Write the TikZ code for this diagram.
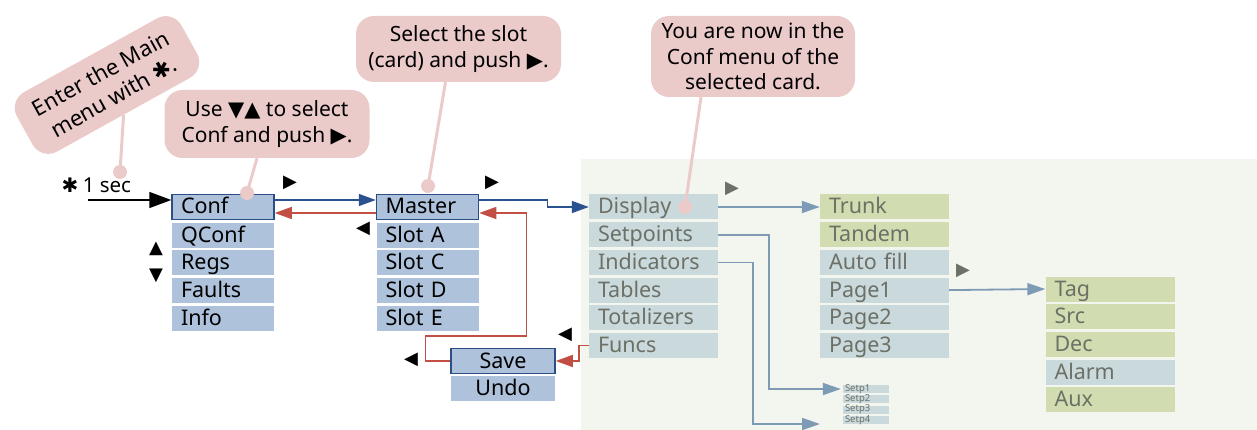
\documentclass[tikz,border=0pt]{standalone}
\usepackage{fontspec}
\setmainfont{Noto Sans}
\newfontfamily\symfont{DejaVu Sans}
\usetikzlibrary{arrows.meta,positioning}

\definecolor{menublue}{HTML}{AEC2DB}
\definecolor{menuedge}{HTML}{2B4F85}
\definecolor{confgrey}{HTML}{CAD9DC}
\definecolor{subgreen}{HTML}{D1DDB0}
\definecolor{panelbg}{HTML}{F3F6EE}
\definecolor{notepink}{HTML}{EBCACA}
\definecolor{linkblue}{HTML}{2A5291}
\definecolor{linkred}{HTML}{C24F43}
\definecolor{linkgrey}{HTML}{7E9BB6}
\definecolor{textgrey}{HTML}{6C7066}

\tikzset{
  tile/.style={inner xsep=9pt, inner ysep=2.5pt, text height=17pt, text depth=3pt,
    align=left, font=\fontsize{21.5}{24}\selectfont},
  mainitem/.style={tile, fill=menublue, text width=84pt},
  curitem/.style={mainitem, draw=menuedge, line width=1.5pt},
  saveitem/.style={tile, fill=menublue, text width=86pt, align=center},
  confitem/.style={tile, fill=confgrey, text=textgrey, text width=111pt},
  subitem/.style={confitem, fill=subgreen},
  setpitem/.style={fill=confgrey, text=textgrey, text width=42pt, inner xsep=2pt,
    inner ysep=0pt, text height=6pt, text depth=2pt, align=left,
    font=\fontsize{9.5}{10}\selectfont},
  note/.style={fill=notepink, rounded corners=18pt, align=center,
    font=\fontsize{21}{25.5}\selectfont},
  stem/.style={draw=notepink, line width=3pt},
  tri/.style={inner sep=0pt, font=\symfont\fontsize{18}{18}\selectfont},
  greytri/.style={tri, text=textgrey},
  keyarrow/.style={line width=1.5pt, -{Triangle[length=22pt,width=16pt]}},
  bluelink/.style={draw=linkblue, line width=1.5pt, -{Triangle[length=17pt,width=12pt]}},
  redlink/.style={draw=linkred, line width=1.5pt, -{Triangle[length=17pt,width=12pt]}},
  greylink/.style={draw=linkgrey, line width=1.8pt, -{Triangle[length=18pt,width=12pt]}}
}

\begin{document}
\begin{tikzpicture}[x=1pt,y=-1pt]

\useasboundingbox (0,0) rectangle (1257,430);

% area of the selected card
\fill[panelbg] (581,159) rectangle (1257,430);

% main menu
\node[curitem] (conf) at (223,207) {Conf};
\node[mainitem, below=2.3pt of conf] (qconf) {QConf};
\node[mainitem, below=2.3pt of qconf] (regs) {Regs};
\node[mainitem, below=2.3pt of regs] (faults) {Faults};
\node[mainitem, below=2.3pt of faults] (info) {Info};

% slots
\node[curitem] (master) at (427.5,207) {Master};
\node[mainitem, below=2.3pt of master] (slota) {Slot A};
\node[mainitem, below=2.3pt of slota] (slotc) {Slot C};
\node[mainitem, below=2.3pt of slotc] (slotd) {Slot D};
\node[mainitem, below=2.3pt of slotd] (slote) {Slot E};

\node[saveitem, draw=menuedge, line width=1.5pt] (save) at (503,361) {Save};
\node[saveitem, below=2pt of save] (undo) {Undo};

% conf menu of the card
\node[confitem] (display) at (653.5,207) {Display};
\node[confitem, below=2.3pt of display] (setpoints) {Setpoints};
\node[confitem, below=2.3pt of setpoints] (indicators) {Indicators};
\node[confitem, below=2.3pt of indicators] (tables) {Tables};
\node[confitem, below=2.3pt of tables] (totalizers) {Totalizers};
\node[confitem, below=2.3pt of totalizers] (funcs) {Funcs};

\node[subitem] (trunk) at (884.5,207) {Trunk};
\node[subitem, below=2.3pt of trunk] (tandem) {Tandem};
\node[confitem, below=2.3pt of tandem] (autofill) {Auto fill};
\node[confitem, below=2.3pt of autofill] (pagea) {Page1};
\node[confitem, below=2.3pt of pagea] (pageb) {Page2};
\node[confitem, below=2.3pt of pageb] (pagec) {Page3};

\node[subitem] (tag) at (1110,289) {Tag};
\node[subitem, below=2.3pt of tag] (src) {Src};
\node[subitem, below=2.3pt of src] (dec) {Dec};
\node[confitem, below=2.3pt of dec] (alarm) {Alarm};
\node[subitem, below=2.3pt of alarm] (aux) {Aux};

\node[setpitem] (setpa) at (866,389) {Setp1};
\node[setpitem, below=2pt of setpa] (setpb) {Setp2};
\node[setpitem, below=2pt of setpb] (setpc) {Setp3};
\node[setpitem, below=2pt of setpc] (setpd) {Setp4};

% entry key
\node[inner sep=0pt, font=\symfont\fontsize{20}{20}\selectfont] (star) at (70,185) {✱};
\node[inner sep=0pt, font=\fontsize{20.5}{21}\selectfont, right=4pt of star] (onesec) {1 sec};
\coordinate (keyin) at (88,200);
\draw[keyarrow] (keyin) -- ([yshift=7pt]conf.west);

% links
\draw[bluelink] ([yshift=7pt]conf.east) -- ([yshift=7pt]master.west);
\draw[redlink] ([yshift=-6pt]master.west) -- ([yshift=-6pt]conf.east);
\draw[bluelink] ([yshift=7pt]master.east) -- ++(68,0) |- (display.west);
\draw[redlink] (funcs.west) -- ++(-10,0) |- (save.east);
\draw[redlink] (save.west) -- ++(-25,0) -- ++(0,-25) -- ++(101,0) |- ([yshift=-6pt]master.east);

\draw[greylink] (display.east) -- (trunk.west);
\draw[greylink, shorten >=2pt] (setpoints.east) -- ++(51,0) |- (setpa.west);
\coordinate (indend) at (820,424);
\draw[greylink] (indicators.east) -- ++(35,0) |- (indend);
\draw[greylink] (pagea.east) -- (tag.west);

% key marks
\node[tri] (rconf) at (290,183) {▶};
\node[tri] (rmaster) at (492,183) {▶};
\node[tri] (lmaster) at (363,229) {◀};
\node[tri] (upregs) at (156,249) {▲};
\node[tri] (dnregs) at (156,276) {▼};
\node[tri] (lfuncs) at (565,335) {◀};
\node[tri] (lsave) at (411,360) {◀};
\node[greytri] (rdisplay) at (732,189) {▶};
\node[greytri] (rpage) at (963,271) {▶};

% callouts
\node[note, minimum width=188pt, minimum height=68pt, rotate=29,
  font=\fontsize{22}{27}\selectfont] (enternote) at (107,85)
  {Enter the Main\\menu with {\symfont ✱}.};
\coordinate (enterdot) at (120,172);
\draw[stem] (enternote.south) -- (enterdot);
\fill[notepink] (enterdot) circle (7pt);

\node[note, minimum width=205pt, minimum height=68pt] (usenote) at (267,124)
  {Use {\symfont ▼▲} to select\\Conf and push {\symfont ▶}.};
\coordinate (usedot) at (247,193);
\draw[stem] ([xshift=-10pt]usenote.south) -- (usedot);
\fill[notepink] (usedot) circle (7pt);

\node[note, minimum width=205pt, minimum height=66pt] (slotnote) at (458.5,49)
  {Select the slot\\(card) and push {\symfont ▶}.};
\coordinate (slotdot) at (428,186);
\draw[stem] ([xshift=-13pt]slotnote.south) -- (slotdot);
\fill[notepink] (slotdot) circle (7pt);

\node[note, minimum width=204pt, minimum height=81pt] (cardnote) at (753,56.5)
  {You are now in the\\Conf menu of the\\selected card.};
\coordinate (carddot) at (685,207);
\draw[stem] ([xshift=-52pt]cardnote.south) -- (carddot);
\fill[notepink] (carddot) circle (7pt);

\end{tikzpicture}
\end{document}
